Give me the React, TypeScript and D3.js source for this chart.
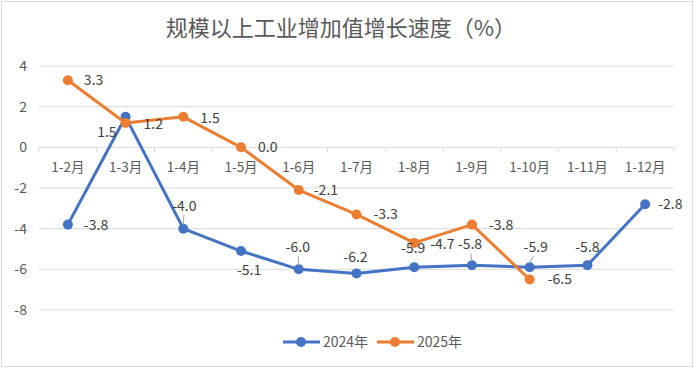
import * as d3 from 'd3';

const categories = ['1-2月', '1-3月', '1-4月', '1-5月', '1-6月', '1-7月', '1-8月', '1-9月', '1-10月', '1-11月', '1-12月'];
const values2024 = [-3.8, 1.5, -4.0, -5.1, -6.0, -6.2, -5.9, -5.8, -5.9, -5.8, -2.8];
const values2025 = [3.3, 1.2, 1.5, 0.0, -2.1, -3.3, -4.7, -3.8, -6.5];
const yTicks = [4, 2, 0, -2, -4, -6, -8];
const seriesNames = ['2024年', '2025年'];

// label placement: [dx, dy, anchor, leader]
type Place = [number, number, string, boolean];
const place2024: Place[] = [
  [16, 0, 'start', false],
  [-9, 15, 'end', false],
  [1, -23, 'middle', true],
  [8, 19, 'middle', false],
  [-1, -22, 'middle', true],
  [-1, -16, 'middle', false],
  [-1, -19, 'middle', false],
  [-2, -21, 'middle', true],
  [6, -20, 'middle', true],
  [0, -18, 'middle', false],
  [13, 0, 'start', false],
];
const place2025: Place[] = [
  [16, 0, 'start', false],
  [18, 1, 'start', false],
  [17, 1, 'start', false],
  [17, 0, 'start', false],
  [15, 0, 'start', false],
  [17, 0, 'start', false],
  [16, 1, 'start', false],
  [17, 0, 'start', false],
  [18, 0, 'start', false],
];

const W = 694;
const H = 368;
const BLUE = '#4472C4';
const ORANGE = '#ED7D31';
const FONT = '"Noto Sans CJK SC", "Noto Sans", sans-serif';

export default function App() {
  const x = d3.scaleBand<string>().domain(categories).range([39, 674]);
  const y = d3.scaleLinear().domain([-8, 4]).range([310, 66]);
  const cx = (i: number) => (x(categories[i]) ?? 0) + x.bandwidth() / 2;

  const line = d3.line<number>()
    .x((_, i) => cx(i))
    .y(d => y(d));

  const series = [
    { name: seriesNames[0], values: values2024, color: BLUE, place: place2024 },
    { name: seriesNames[1], values: values2025, color: ORANGE, place: place2025 },
  ];

  const bounds = categories.map(c => x(c) ?? 0).concat([674]);

  return (
    <svg width={W} height={H} style={{ position: 'absolute', left: 0, top: 0, fontFamily: FONT }}>
      <rect x={1.5} y={1.5} width={W - 3} height={H - 3} fill="#fff" stroke="#d9d9d9" />
      <text x={341} y={35.5} textAnchor="middle" fontSize={22} fill="#595959">规模以上工业增加值增长速度（%）</text>

      {yTicks.map(t => (
        <g key={t}>
          {t !== 0 && <line x1={39} x2={674} y1={y(t)} y2={y(t)} stroke="#d9d9d9" strokeWidth={1} />}
          <text x={27} y={y(t)} dy="0.35em" textAnchor="end" fontSize={14} fill="#595959">{t}</text>
        </g>
      ))}

      <line x1={39} x2={674} y1={y(0)} y2={y(0)} stroke="#d9d9d9" strokeWidth={1} />
      {bounds.map((b, i) => (
        <line key={i} x1={b} x2={b} y1={y(0)} y2={y(0) + 5} stroke="#d9d9d9" />
      ))}
      {categories.map((c, i) => (
        <text key={c} x={cx(i)} y={y(0) + 20} dy="0.35em" textAnchor="middle" fontSize={13.5} fill="#595959">{c}</text>
      ))}

      {series.map(s => (
        <g key={s.name}>
          <path d={line(s.values) ?? ''} fill="none" stroke={s.color} strokeWidth={3} strokeLinejoin="round" />
          {s.values.map((v, i) => (
            <circle key={i} cx={cx(i)} cy={y(v)} r={5} fill={s.color} />
          ))}
        </g>
      ))}

      {series.map(s => (
        <g key={s.name + 'lbl'}>
          {s.values.map((v, i) => {
            const [dx, dy, anchor, leader] = s.place[i];
            const px = cx(i);
            const py = y(v);
            return (
              <g key={i}>
                {leader && (
                  <line x1={px + dx * 0.6} y1={py + dy + 9} x2={px} y2={py - 4} stroke="#a6a6a6" strokeWidth={1} />
                )}
                <text x={px + dx} y={py + dy} dy="0.35em" textAnchor={anchor} fontSize={14} fill="#404040">
                  {v.toFixed(1)}
                </text>
              </g>
            );
          })}
        </g>
      ))}

      {series.map((s, k) => {
        const lx = 283 + k * 94;
        const ly = 342;
        return (
          <g key={s.name + 'leg'}>
            <line x1={lx} x2={lx + 37} y1={ly} y2={ly} stroke={s.color} strokeWidth={3} />
            <circle cx={lx + 18} cy={ly} r={5} fill={s.color} />
            <text x={lx + 40} y={ly} dy="0.35em" fontSize={14} fill="#595959">{s.name}</text>
          </g>
        );
      })}
    </svg>
  );
}
